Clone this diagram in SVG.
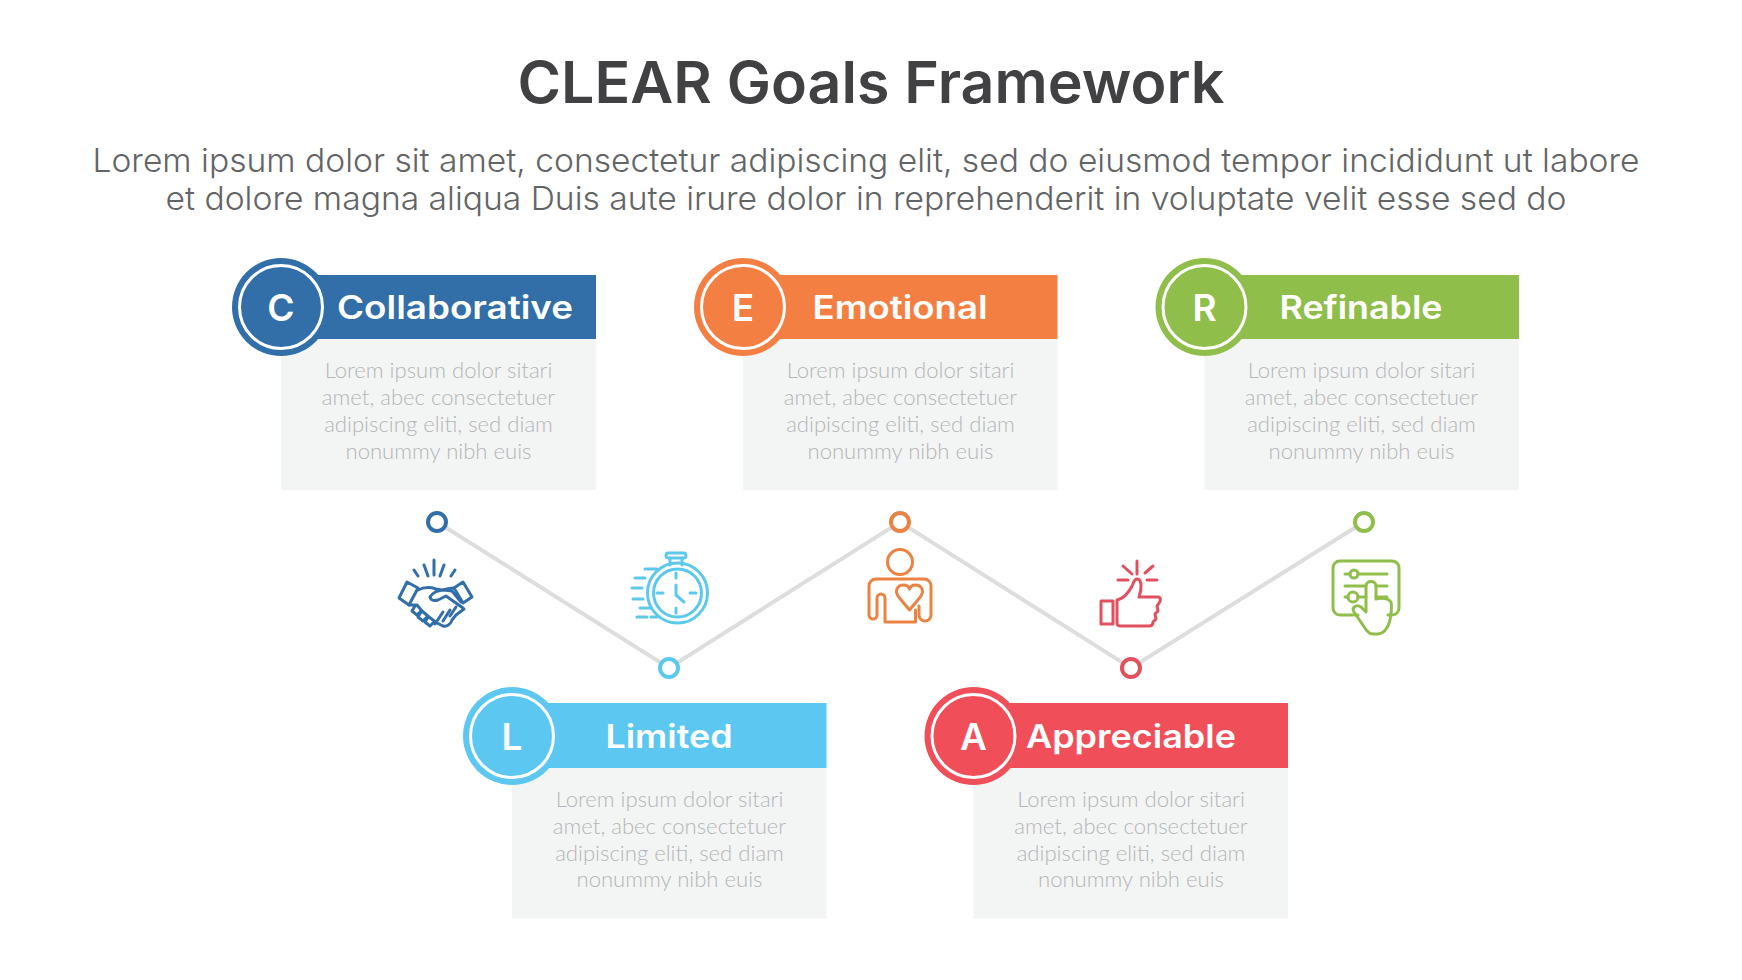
<svg xmlns="http://www.w3.org/2000/svg" width="1742" height="980" viewBox="0 0 1742 980">
<style>
text{font-family:"Inter","Liberation Sans",sans-serif;text-anchor:middle}
.title{font-size:58px;font-weight:600;fill:#414042}
.sub{font-size:33px;font-weight:300;fill:#636466}
.head{font-size:32px;font-weight:600;fill:#fff}
.let{font-size:37px;font-weight:600;fill:#fff}
.body{font-family:"Lato","Liberation Sans",sans-serif;font-size:22.1px;font-weight:300;fill:#b4b6b7}
.box{fill:#f3f4f4}
.ring{fill:none;stroke:#fff;stroke-width:3}
.dot{fill:#fff;stroke-width:4}
.ic{fill:none;stroke-width:3;stroke-linecap:round;stroke-linejoin:round}
#connectors polyline{fill:none;stroke:#dcdddd;stroke-width:4}
</style>
<rect width="1742" height="980" fill="#fff"/>
<text class="title" x="871" y="103" textLength="707" lengthAdjust="spacingAndGlyphs">CLEAR Goals Framework</text>
<text class="sub" x="866" y="172" textLength="1547" lengthAdjust="spacingAndGlyphs">Lorem ipsum dolor sit amet, consectetur adipiscing elit, sed do eiusmod tempor incididunt ut labore</text>
<text class="sub" x="866" y="210" textLength="1401" lengthAdjust="spacingAndGlyphs">et dolore magna aliqua Duis aute irure dolor in reprehenderit in voluptate velit esse sed do</text>
<g id="connectors"><polyline points="437,522 669,668 900,522 1131,668 1364,522"/></g>
<g id="node-c">
<rect class="box" x="281" y="339" width="315" height="151"/><rect x="281" y="275" width="315" height="64" fill="#326fa8"/>
<circle cx="281" cy="307" r="49" fill="#326fa8"/><circle class="ring" cx="281" cy="307" r="41.500"/>
<text class="let" x="281" y="320.500">C</text><text class="head" x="455" y="319" textLength="236" lengthAdjust="spacingAndGlyphs">Collaborative</text>
<text class="body" x="438.500" y="378">Lorem ipsum dolor sitari</text><text class="body" x="438.500" y="405">amet, abec consectetuer</text><text class="body" x="438.500" y="432">adipiscing eliti, sed diam</text><text class="body" x="438.500" y="458.500">nonummy nibh euis</text>
</g>
<g id="node-e">
<rect class="box" x="743" y="339" width="314.500" height="151"/><rect x="743" y="275" width="314.500" height="64" fill="#f47f43"/>
<circle cx="743" cy="307" r="49" fill="#f47f43"/><circle class="ring" cx="743" cy="307" r="41.500"/>
<text class="let" x="743" y="320.500">E</text><text class="head" x="900" y="319" textLength="175" lengthAdjust="spacingAndGlyphs">Emotional</text>
<text class="body" x="900.500" y="378">Lorem ipsum dolor sitari</text><text class="body" x="900.500" y="405">amet, abec consectetuer</text><text class="body" x="900.500" y="432">adipiscing eliti, sed diam</text><text class="body" x="900.500" y="458.500">nonummy nibh euis</text>
</g>
<g id="node-r">
<rect class="box" x="1204.500" y="339" width="314.500" height="151"/><rect x="1204.500" y="275" width="314.500" height="64" fill="#8fbe4b"/>
<circle cx="1204.500" cy="307" r="49" fill="#8fbe4b"/><circle class="ring" cx="1204.500" cy="307" r="41.500"/>
<text class="let" x="1204.500" y="320.500">R</text><text class="head" x="1361" y="319" textLength="163" lengthAdjust="spacingAndGlyphs">Refinable</text>
<text class="body" x="1361.500" y="378">Lorem ipsum dolor sitari</text><text class="body" x="1361.500" y="405">amet, abec consectetuer</text><text class="body" x="1361.500" y="432">adipiscing eliti, sed diam</text><text class="body" x="1361.500" y="458.500">nonummy nibh euis</text>
</g>
<g id="node-l">
<rect class="box" x="512" y="768" width="314.500" height="150.500"/><rect x="512" y="703" width="314.500" height="65" fill="#5cc8f2"/>
<circle cx="512" cy="736" r="49" fill="#5cc8f2"/><circle class="ring" cx="512" cy="736" r="41.500"/>
<text class="let" x="512" y="749.500">L</text><text class="head" x="669" y="748" textLength="127" lengthAdjust="spacingAndGlyphs">Limited</text>
<text class="body" x="669.500" y="806.500">Lorem ipsum dolor sitari</text><text class="body" x="669.500" y="833.500">amet, abec consectetuer</text><text class="body" x="669.500" y="860.500">adipiscing eliti, sed diam</text><text class="body" x="669.500" y="887">nonummy nibh euis</text>
</g>
<g id="node-a">
<rect class="box" x="973.500" y="768" width="314.500" height="150.500"/><rect x="973.500" y="703" width="314.500" height="65" fill="#f04f5a"/>
<circle cx="973.500" cy="736" r="49" fill="#f04f5a"/><circle class="ring" cx="973.500" cy="736" r="41.500"/>
<text class="let" x="973.500" y="749.500">A</text><text class="head" x="1131" y="748" textLength="210" lengthAdjust="spacingAndGlyphs">Appreciable</text>
<text class="body" x="1131" y="806.500">Lorem ipsum dolor sitari</text><text class="body" x="1131" y="833.500">amet, abec consectetuer</text><text class="body" x="1131" y="860.500">adipiscing eliti, sed diam</text><text class="body" x="1131" y="887">nonummy nibh euis</text>
</g>
<g id="dots">
<circle class="dot" cx="437" cy="522" r="9" stroke="#326fa8"/><circle class="dot" cx="669" cy="668" r="9" stroke="#5cc8ea"/><circle class="dot" cx="900" cy="522" r="9" stroke="#ea8242"/><circle class="dot" cx="1131" cy="668" r="9" stroke="#e0505f"/><circle class="dot" cx="1364" cy="522" r="9" stroke="#8fbe4b"/>
</g>
<g id="icon-handshake" class="ic" stroke="#326fa8">
<path d="M434 560v15M424 565l4 11M444 565l-4 11M414 570l4 6M455 570l-4 6"/>
<path d="M399 598l8-16 11 6-9 17zM454 588l9-6 9 15-9 6z"/>
<path d="M418 590c6-3 12-3 18-1l6 1c4-1 8-2 12-2M430 597c2-4 8-7 14-7l8 1 9 11M430 597c1 4 5 4 8 3l8-4 17 12"/>
<path d="M409 605l8 0 5 6 7 6 8 6 6 3c4 1 8-2 9-6l4-5 8-6M415 606l-3 5 5 4 4-4M421 612l-3 5 5 4 4-4M428 617l-3 5 5 4 4-4M443 612l-8 12M450 610l-7 11M456 607l-6 9"/>
</g>
<g id="icon-stopwatch" class="ic" stroke="#5cc8ea">
<circle cx="677.500" cy="593" r="30"/><circle cx="677.500" cy="593" r="24"/>
<rect x="666" y="553" width="20" height="5" rx="2.500"/><path d="M670 558v7M682 558v7M676 573v5M676 608v5M657 593h6M690 593h6M676 585v10l8 7M645 569h12M635 578h10M632 588h10M633 599h10M640 608h10M637 617h10M651 617h6"/>
</g>
<g id="icon-person" class="ic" stroke="#ea8242">
<circle cx="900" cy="562" r="12.500"/>
<path d="M885 622H915.500V610M885 622V598a4 4 0 0 0-8 0V615a4 4 0 0 1-8 0V586c0-4 3-7 7-7H924c4 0 7 3 7 7V615a6 6 0 0 1-12 0V606"/>
<path d="M909.500 610l-10-12c-6-7-2-13 4-13 3 0 5 1 6 4 1-3 3-4 6-4 6 0 10 6 4 13z" fill="#fff"/>
</g>
<g id="icon-thumb" class="ic" stroke="#e0505f">
<rect x="1101" y="601" width="12" height="23"/>
<path d="M1117 600c8-2 12-8 15-14 2-4 2-7 5-7 5 0 5 10 2 18h19c3 0 3 4 1 6l-2 3 1 5-3 3 1 5-3 3c0 2-1 4-4 4h-28c-3 0-4-1-4-3z"/>
<path d="M1137 561v13M1123 566l9 8M1153 566l-8 7M1118 580h10M1147 580h10"/>
</g>
<g id="icon-panel" class="ic" stroke="#8fbe4b">
<path d="M1358 615h-18c-4 0-7-3-7-7v-40c0-4 3-7 7-7h52c4 0 7 3 7 7v40c0 4-3 7-7 7h-4"/>
<path d="M1345 574h5M1358 574h29M1345 586h21M1376 586h11M1345 597h3M1358 597h8M1376 597h11"/>
<circle cx="1354" cy="574" r="4"/><circle cx="1353" cy="597" r="5"/>
<path d="M1366 612v-26c0-6 10-6 10 0v13c6-2 13 0 15 3 1 4 0 14-1 18-2 8-6 14-13 14h-4c-6 0-9-8-19-22-3-5 3-8 7-5z"/>
</g>
</svg>
